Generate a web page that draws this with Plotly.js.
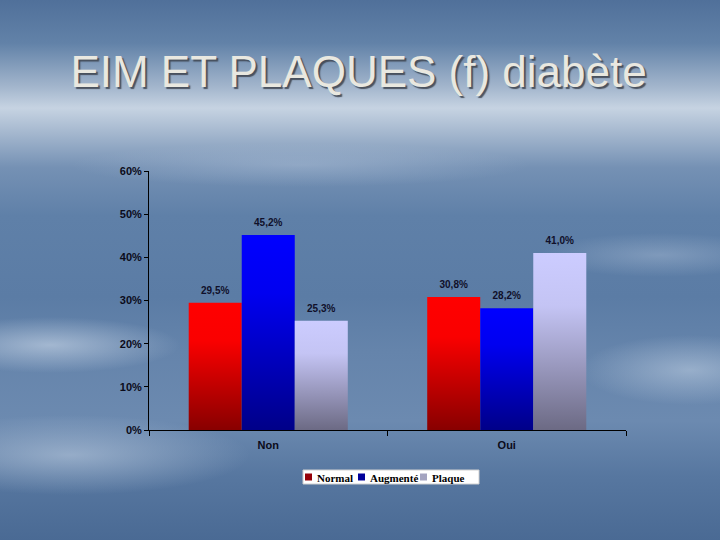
<!DOCTYPE html>
<html>
<head>
<meta charset="utf-8">
<script src="https://cdn.plot.ly/plotly-3.0.1.min.js"></script>
<style>
html,body{margin:0;padding:0;}
body{
  width:720px;height:540px;overflow:hidden;
  background:
    radial-gradient(ellipse 130px 28px at 50px 345px, rgba(205,218,234,0.6), rgba(205,218,234,0) 100%),
    radial-gradient(ellipse 180px 40px at 70px 455px, rgba(195,210,228,0.55), rgba(195,210,228,0) 100%),
    radial-gradient(ellipse 110px 35px at 690px 370px, rgba(200,215,232,0.5), rgba(200,215,232,0) 100%),
    radial-gradient(ellipse 120px 22px at 660px 255px, rgba(190,205,225,0.35), rgba(190,205,225,0) 100%),
    radial-gradient(ellipse 230px 22px at 300px 165px, rgba(190,205,225,0.35), rgba(190,205,225,0) 100%),
    linear-gradient(to bottom, #50709a 0%, #6282a8 8%, #a2b5cc 16%, #c6d3e2 20%, #a9bbd1 24%, #7591b4 31%, #5f80a8 40%, #5b7ca5 55%, #6584ab 65%, #6c8ab0 78%, #5777a0 88%, #4a6a94 100%);
}
#chart{width:720px;height:540px;}
</style>
</head>
<body>
<div id="chart"></div>
<script>
var categories = ['Non', 'Oui'];
var seriesNames = ['Normal', 'Augmenté', 'Plaque'];
var normal = [0.295, 0.308];
var augmente = [0.452, 0.282];
var plaque = [0.253, 0.410];
var yTickVals = [0, 0.1, 0.2, 0.3, 0.4, 0.5, 0.6];

var gradStops = [
  ['#ff0000', '#fa0000', '#880000'],
  ['#0000ff', '#0000f0', '#000088'],
  ['#ccccff', '#c4c4f4', '#6c6a84']
];
var swatchColors = ['#950008', '#00009a', '#a4a4c0'];

var labelFont = {family: 'Liberation Sans, Arial, sans-serif', size: 10, color: '#10102a', weight: 700};

function mk(name, vals) {
  return {
    type: 'bar', name: name, x: categories, y: vals,
    texttemplate: '%{y:.1%}', textposition: 'outside', cliponaxis: false,
    textfont: labelFont, marker: {line: {width: 0}}, showlegend: false
  };
}
var data = [mk(seriesNames[0], normal), mk(seriesNames[1], augmente), mk(seriesNames[2], plaque)];

// plot area in pixels: left 149, right 626, top 171, bottom 430
function px(x) { return (x - 149) / 477; }
function py(y) { return (430 - y) / 259; }

// legend box built from shapes + annotations
var legendItems = [
  {sw: 305, tx: 315},
  {sw: 358, tx: 368},
  {sw: 420, tx: 430}
];
var shapes = [{
  type: 'rect', xref: 'paper', yref: 'paper',
  x0: px(303), x1: px(479), y0: py(484), y1: py(470),
  fillcolor: '#ffffff', line: {color: '#d0d0d0', width: 1}, layer: 'above'
}];
var annotations = [];
legendItems.forEach(function(it, i) {
  shapes.push({
    type: 'rect', xref: 'paper', yref: 'paper',
    x0: px(it.sw), x1: px(it.sw + 7), y0: py(480.5), y1: py(473.5),
    fillcolor: swatchColors[i], line: {width: 0}, layer: 'above'
  });
  annotations.push({
    xref: 'paper', yref: 'paper', x: px(it.tx), y: py(477.5),
    xanchor: 'left', yanchor: 'middle', showarrow: false,
    text: seriesNames[i],
    font: {family: 'Liberation Serif, Times New Roman, serif', size: 11, color: '#000', weight: 700}
  });
});

var layout = {
  width: 720, height: 540,
  margin: {l: 149, r: 94, t: 171, b: 110},
  paper_bgcolor: 'rgba(0,0,0,0)', plot_bgcolor: 'rgba(0,0,0,0)',
  separators: ', ',
  barmode: 'group', bargap: 0.333, bargroupgap: 0,
  showlegend: false,
  shapes: shapes,
  annotations: annotations,
  title: {
    text: 'EIM ET PLAQUES (f) diabète',
    x: 0.498, xanchor: 'center', xref: 'container',
    y: 1 - 72/540, yanchor: 'middle', yref: 'container',
    font: {family: 'Liberation Sans, Arial, sans-serif', size: 44, color: '#e9e8e0', shadow: '2px 2px 1px rgba(60,66,76,0.85)'}
  },
  xaxis: {
    type: 'category', showgrid: false, zeroline: false,
    showline: true, linecolor: '#000', linewidth: 1,
    ticks: 'outside', tickson: 'boundaries', ticklen: 5, tickcolor: '#000',
    ticklabelstandoff: 5,
    tickfont: {family: 'Liberation Sans, Arial, sans-serif', size: 11, color: '#0b0b1a', weight: 700}
  },
  yaxis: {
    range: [0, 0.6], tickvals: yTickVals, tickformat: '.0%',
    showgrid: false, zeroline: false,
    showline: true, linecolor: '#000', linewidth: 1,
    ticks: 'outside', ticklen: 4, tickcolor: '#000',
    tickfont: {family: 'Liberation Sans, Arial, sans-serif', size: 11, color: '#0b0b1a', weight: 700}
  }
};

Plotly.newPlot('chart', data, layout, {staticPlot: true, displayModeBar: false}).then(function(gd) {
  var NS = 'http://www.w3.org/2000/svg';
  var svg = gd.querySelector('svg.main-svg');
  var defs = svg.querySelector('defs') || svg.insertBefore(document.createElementNS(NS, 'defs'), svg.firstChild);
  gradStops.forEach(function(st, i) {
    var lg = document.createElementNS(NS, 'linearGradient');
    lg.setAttribute('id', 'bargrad' + i);
    lg.setAttribute('x1', '0'); lg.setAttribute('y1', '0');
    lg.setAttribute('x2', '0'); lg.setAttribute('y2', '1');
    [[0, st[0]], [0.3, st[1]], [1, st[2]]].forEach(function(s) {
      var stop = document.createElementNS(NS, 'stop');
      stop.setAttribute('offset', s[0]);
      stop.setAttribute('stop-color', s[1]);
      lg.appendChild(stop);
    });
    defs.appendChild(lg);
  });
  var traces = gd.querySelectorAll('.barlayer .trace');
  traces.forEach(function(t, i) {
    t.querySelectorAll('path').forEach(function(p) { p.style.fill = 'url(#bargrad' + i + ')'; });
    t.querySelectorAll('text').forEach(function(tx) {
      tx.setAttribute('transform', 'translate(0,-4) ' + (tx.getAttribute('transform') || ''));
    });
  });
});
</script>
</body>
</html>
